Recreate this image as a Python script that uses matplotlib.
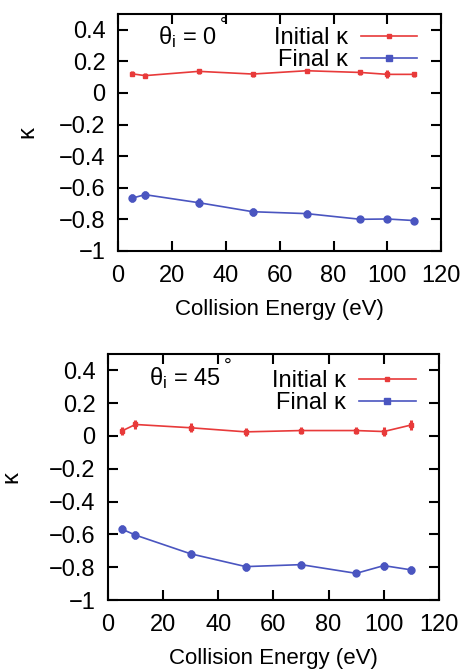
import numpy as np
import matplotlib.pyplot as plt
from matplotlib.lines import Line2D

plt.rcParams['font.family'] = ['Liberation Sans', 'DejaVu Sans']

# collision energies (eV)
energy = [5, 10, 30, 50, 70, 90, 100, 110]

# theta_i = 0 deg
init_0 = [0.122, 0.110, 0.137, 0.120, 0.141, 0.130, 0.118, 0.118]
init_0_err = [0.016, 0.014, 0.016, 0.016, 0.014, 0.016, 0.026, 0.018]
final_0 = [-0.667, -0.644, -0.695, -0.752, -0.764, -0.800, -0.798, -0.808]
final_0_err = [0.026, 0.026, 0.028, 0.024, 0.020, 0.020, 0.020, 0.020]

# theta_i = 45 deg
init_45 = [0.030, 0.070, 0.050, 0.025, 0.033, 0.033, 0.027, 0.067]
init_45_err = [0.026, 0.026, 0.026, 0.026, 0.024, 0.024, 0.026, 0.028]
final_45 = [-0.567, -0.604, -0.718, -0.796, -0.784, -0.837, -0.790, -0.816]
final_45_err = [0.026, 0.024, 0.024, 0.024, 0.022, 0.016, 0.024, 0.022]

panels = [
    (init_0, init_0_err, final_0, final_0_err, '0'),
    (init_45, init_45_err, final_45, final_45_err, '45'),
]
rects = [[0.255, 0.625, 0.698, 0.354], [0.233, 0.103, 0.715, 0.368]]
ylabel_x = [-0.248, -0.257]
legend_anchor = [(0.926, 0.944), (0.93, 0.933)]

red = '#e83a3a'
blue = '#4a55c0'
fs = 17

fig = plt.figure(figsize=(4.63, 6.69), dpi=100)
labels = []
for (ini, ini_e, fin, fin_e, ang), rect, ylx, anc in zip(panels, rects, ylabel_x, legend_anchor):
    ax = fig.add_axes(rect)
    ax.errorbar(energy, ini, yerr=ini_e, color=red, lw=1.2, marker='s', ms=3.5,
                elinewidth=2.2, capsize=0)
    ax.errorbar(energy, fin, yerr=fin_e, color=blue, lw=1.2, marker='o', ms=5,
                elinewidth=2.4, capsize=0)
    ax.set_xlim(0, 120)
    ax.set_ylim(-1, 0.5)
    ax.set_xticks(np.arange(0, 121, 20))
    ax.set_yticks([-1, -0.8, -0.6, -0.4, -0.2, 0, 0.2, 0.4])
    ax.set_yticklabels(['\u22121', '\u22120.8', '\u22120.6', '\u22120.4', '\u22120.2', '0', '0.2', '0.4'])
    ax.tick_params(direction='in', top=True, right=True, length=7, width=1.5,
                   labelsize=fs)
    ax.tick_params(axis='x', pad=10)
    ax.tick_params(axis='y', pad=9)
    for s in ax.spines.values():
        s.set_linewidth(1.5)
    ax.set_xlabel('Collision Energy (eV)', fontsize=16, labelpad=9)
    ax.set_ylabel('κ', fontsize=fs)
    ax.yaxis.set_label_coords(ylx, 0.5)
    t = ax.text(15, 0.31, r'$\mathregular{\theta_i}$ = ' + ang, fontsize=fs)
    labels.append((ax, t))
    handles = [Line2D([], [], color=red, lw=1.2, marker='s', ms=3),
               Line2D([], [], color=blue, lw=1.2, marker='s', ms=4)]
    ax.legend(handles, ['Initial κ', 'Final κ'], loc='upper right',
              bbox_to_anchor=anc, frameon=False, markerfirst=False,
              fontsize=fs, handlelength=2.4, borderaxespad=0, borderpad=0,
              labelspacing=0.0, handletextpad=0.55)

# degree sign, raised above the end of the angle label
fig.canvas.draw()
for ax, t in labels:
    bb = t.get_window_extent()
    x = ax.transData.inverted().transform((bb.x1 + 3, 0))[0]
    ax.annotate('°', xy=(x, 0.31), xytext=(0, 10), textcoords='offset points',
                fontsize=fs - 3, va='baseline')

fig.savefig('out.png', dpi=100)
